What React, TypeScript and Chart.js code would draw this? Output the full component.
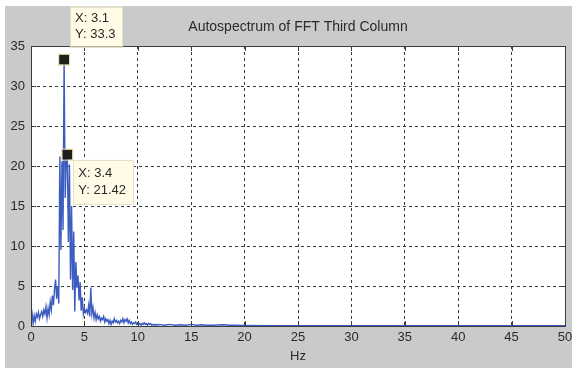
import React, { useEffect, useRef } from "react";
import { Chart, registerables } from "chart.js";

Chart.register(...registerables);

const TITLE = "Autospectrum of FFT Third Column";
const X_LABEL = "Hz";

// Frequencies (Hz) of the sampled spectrum
const freqHz: number[] = [
  0.0, 0.1, 0.2, 0.3, 0.4, 0.5, 0.6, 0.7, 0.8, 0.9,
  1.0, 1.1, 1.2, 1.3, 1.4, 1.5, 1.6, 1.7, 1.8, 1.9,
  2.0, 2.1, 2.2, 2.3, 2.4, 2.5, 2.6, 2.7, 2.8, 2.9,
  3.0, 3.1, 3.2, 3.3, 3.4, 3.5, 3.6, 3.7, 3.8, 3.9,
  4.0, 4.1, 4.2, 4.3, 4.4, 4.5, 4.6, 4.7, 4.8, 4.9,
  5.0, 5.1, 5.2, 5.3, 5.4, 5.5, 5.6, 5.7, 5.8, 5.9,
  6.0, 6.1, 6.2, 6.3, 6.4, 6.5, 6.6, 6.7, 6.8, 6.9,
  7.0, 7.1, 7.2, 7.3, 7.4, 7.5, 7.6, 7.7, 7.8, 7.9,
  8.0, 8.1, 8.2, 8.3, 8.4, 8.5, 8.6, 8.7, 8.8, 8.9,
  9.0, 9.1, 9.2, 9.3, 9.4, 9.5, 9.6, 9.7, 9.8, 9.9,
  10.0, 10.1, 10.2, 10.3, 10.4, 10.5, 10.6, 10.7, 10.8, 10.9,
  11.0, 11.1, 11.2, 11.3, 11.4, 11.5, 11.6, 11.7, 11.8, 11.9,
  12.0, 12.5, 13.0, 13.5, 14.0, 14.5, 15.0, 15.5, 16.0, 16.5,
  17.0, 18.0, 18.5, 19.0, 20.0, 22.0, 25.0, 30.0, 35.0, 40.0,
  45.0, 50.0,
];

// Autospectrum amplitude at each frequency
const autospectrum: number[] = [
  2.5, 1.6, 0.3, 1.3, 0.6, 1.5, 1.1, 1.7, 0.9, 1.4,
  1.8, 1.2, 2.0, 1.5, 2.4, 1.0, 2.2, 1.4, 3.0, 2.0,
  3.8, 2.6, 4.6, 5.8, 3.4, 5.0, 2.8, 21.2, 9.5, 20.6,
  12.0, 33.3, 16.0, 20.8, 21.42, 10.5, 20.2, 5.8, 15.0, 4.5,
  11.8, 1.8, 8.0, 4.8, 6.3, 3.2, 5.5, 1.9, 3.6, 1.5,
  2.2, 1.7, 2.0, 1.6, 2.6, 1.2, 4.8, 1.5, 2.3, 1.0,
  1.7, 0.8, 1.4, 0.9, 1.2, 0.6, 1.0, 0.8, 1.2, 0.5,
  0.9, 0.6, 0.8, 0.3, 0.7, 0.2, 0.6, 0.4, 0.9, 0.5,
  0.7, 0.4, 0.6, 0.3, 0.7, 0.5, 0.9, 0.4, 0.8, 0.6,
  0.9, 0.4, 0.7, 0.3, 0.5, 0.2, 0.4, 0.3, 0.5, 0.2,
  0.3, 0.2, 0.3, 0.1, 0.3, 0.2, 0.4, 0.2, 0.3, 0.1,
  0.3, 0.2, 0.3, 0.1, 0.2, 0.1, 0.2, 0.1, 0.2, 0.1,
  0.2, 0.1, 0.2, 0.1, 0.15, 0.1, 0.2, 0.1, 0.15, 0.1,
  0.1, 0.15, 0.1, 0.1, 0.08, 0.05, 0.05, 0.05, 0.05, 0.05,
  0.05, 0.05,
];

const xTicks: number[] = [0, 5, 10, 15, 20, 25, 30, 35, 40, 45, 50];
const yTicks: number[] = [0, 5, 10, 15, 20, 25, 30, 35];

// Data tips (marked points)
const tipX: number[] = [3.1, 3.4];
const tipY: number[] = [33.3, 21.42];
const tipText: string[][] = [
  ["X: 3.1", "Y: 33.3"],
  ["X: 3.4", "Y: 21.42"],
];

const FONT = "'Liberation Sans', Arial, sans-serif";
const FIG_GRAY = "#c9cacb";
const TEXT = "#2a2a2a";

const decorPlugin = {
  id: "matlabDecor",
  beforeDraw(chart: any) {
    const { ctx, chartArea: a } = chart;
    ctx.save();
    ctx.fillStyle = "#ffffff";
    ctx.fillRect(0, 0, chart.width, chart.height);
    ctx.fillStyle = FIG_GRAY;
    ctx.fillRect(5, 6, chart.width - 5, chart.height - 6);
    ctx.fillStyle = "#ffffff";
    ctx.fillRect(a.left, a.top, a.right - a.left, a.bottom - a.top);
    ctx.restore();
  },
  afterDatasetsDraw(chart: any) {
    const { ctx, chartArea: a } = chart;
    const xs = chart.scales.x;
    const ys = chart.scales.y;
    ctx.save();
    ctx.strokeStyle = "#3c3c3c";
    ctx.lineWidth = 1;
    ctx.setLineDash([]);
    ctx.beginPath();
    const L = 5;
    xTicks.forEach((t) => {
      const px = Math.round(xs.getPixelForValue(t)) + 0.5;
      ctx.moveTo(px, a.bottom);
      ctx.lineTo(px, a.bottom - L);
      ctx.moveTo(px, a.top);
      ctx.lineTo(px, a.top + L);
    });
    yTicks.forEach((t) => {
      const py = Math.round(ys.getPixelForValue(t)) + 0.5;
      ctx.moveTo(a.left, py);
      ctx.lineTo(a.left + L, py);
      ctx.moveTo(a.right, py);
      ctx.lineTo(a.right - L, py);
    });
    ctx.stroke();
    ctx.strokeRect(
      Math.round(a.left) + 0.5,
      Math.round(a.top) + 0.5,
      Math.round(a.right - a.left),
      Math.round(a.bottom - a.top)
    );
    ctx.restore();
  },
  afterDraw(chart: any) {
    const { ctx } = chart;
    const xs = chart.scales.x;
    const ys = chart.scales.y;
    ctx.save();
    ctx.font = `13px ${FONT}`;
    ctx.textBaseline = "middle";
    tipX.forEach((tx, i) => {
      const px = xs.getPixelForValue(tx);
      const py = ys.getPixelForValue(tipY[i]);
      const lines = tipText[i];
      const w = Math.max(...lines.map((l) => ctx.measureText(l).width)) + 12;
      const h = i === 0 ? 40 : 44;
      const bx = px + 6;
      const by = i === 0 ? py - h - 13 : py + 5;
      ctx.fillStyle = "#fffbe6";
      ctx.fillRect(bx, by, w, h);
      ctx.strokeStyle = "#e6dfc2";
      ctx.lineWidth = 1;
      ctx.strokeRect(Math.round(bx) + 0.5, Math.round(by) + 0.5, Math.round(w), h);
      ctx.fillStyle = TEXT;
      ctx.textAlign = "left";
      lines.forEach((l, j) => {
        ctx.fillText(l, bx + 5, by + (i === 0 ? 12 : 14) + j * (i === 0 ? 16 : 17));
      });
      // marker
      ctx.fillStyle = "#1e1e1e";
      ctx.fillRect(px - 5, py - 5, 10, 10);
      ctx.strokeStyle = "#e8dca0";
      ctx.strokeRect(px - 5.5, py - 5.5, 11, 11);
    });
    ctx.restore();
  },
};

export default function App() {
  const ref = useRef<HTMLCanvasElement | null>(null);

  useEffect(() => {
    document.body.style.margin = "0";
    const canvas = ref.current;
    if (!canvas) return;
    const points = freqHz.map((f, i) => ({ x: f, y: autospectrum[i] }));
    const chart = new Chart(canvas, {
      type: "line",
      data: {
        datasets: [
          {
            data: points,
            borderColor: "#3d5cc0",
            borderWidth: 1.4,
            pointRadius: 0,
            tension: 0,
            fill: false,
          },
        ],
      },
      options: {
        animation: false,
        responsive: false,
        devicePixelRatio: 1,
        events: [],
        layout: { padding: { left: 0, right: 0, top: 0, bottom: 0 } },
        plugins: {
          legend: { display: false },
          tooltip: { enabled: false },
          title: {
            display: true,
            text: TITLE,
            fullSize: false,
            color: TEXT,
            font: { family: FONT, size: 14, weight: "normal" },
            padding: { top: 19, bottom: 10.2 },
          },
        },
        scales: {
          x: {
            type: "linear",
            min: 0,
            max: 50,
            afterFit: (s: any) => {
              s.height = 42;
              s.paddingRight = 7;
            },
            afterBuildTicks: (s: any) => {
              s.ticks = xTicks.map((v) => ({ value: v }));
            },
            ticks: {
              color: TEXT,
              font: { family: FONT, size: 13 },
              padding: 4,
              maxRotation: 0,
            },
            grid: {
              color: "#3a3a3a",
              lineWidth: 1,
              drawTicks: false,
            },
            border: { display: false, dash: [3, 3] },
            title: {
              display: true,
              text: X_LABEL,
              color: TEXT,
              font: { family: FONT, size: 13 },
              padding: { top: 0, bottom: 4 },
            },
          },
          y: {
            type: "linear",
            min: 0,
            max: 35,
            afterFit: (s: any) => {
              s.width = 31;
            },
            afterBuildTicks: (s: any) => {
              s.ticks = yTicks.map((v) => ({ value: v }));
            },
            ticks: {
              color: TEXT,
              font: { family: FONT, size: 13 },
              padding: 6,
            },
            grid: {
              color: "#3a3a3a",
              lineWidth: 1,
              drawTicks: false,
            },
            border: { display: false, dash: [3, 3] },
          },
        },
      },
      plugins: [decorPlugin],
    });
    return () => chart.destroy();
  }, []);

  return (
    <div style={{ width: 572, height: 368 }}>
      <canvas ref={ref} width={572} height={368} style={{ display: "block" }} />
    </div>
  );
}
